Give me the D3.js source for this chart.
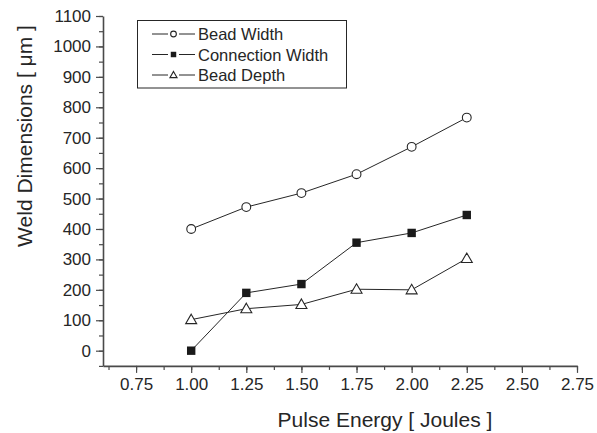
<!DOCTYPE html>
<html>
<head>
<meta charset="utf-8">
<script src="https://cdn.jsdelivr.net/npm/d3@7"></script>
<style>
  body { margin: 0; background: #fff; }
  svg text { font-family: "Liberation Sans", Arial, sans-serif; fill: #262626; }
</style>
</head>
<body>
<div id="area"></div>
<script>
var width = 597, height = 433;

// data
var energy = [1.00, 1.25, 1.50, 1.75, 2.00, 2.25];
var beadWidth = [400, 472, 518, 580, 670, 766];
var connectionWidth = [0, 190, 219, 355, 387, 446];
var beadDepth = [102, 138, 152, 202, 200, 303];
var seriesNames = ['Bead Width', 'Connection Width', 'Bead Depth'];
var seriesMarkers = ['circle', 'square', 'triangle'];
var xTicks = [0.75, 1.00, 1.25, 1.50, 1.75, 2.00, 2.25, 2.50, 2.75];
var yTicks = [0, 100, 200, 300, 400, 500, 600, 700, 800, 900, 1000, 1100];

var series = [beadWidth, connectionWidth, beadDepth];

var ink = '#262626', axisColor = '#4a4a4a';

var x = d3.scaleLinear().domain([0.6, 2.75]).range([103, 577]);
var y = d3.scaleLinear().domain([-50, 1100]).range([365.9, 16]);

var svg = d3.select('#area').append('svg')
    .attr('width', width).attr('height', height);

// minor ticks
var xMinor = d3.range(0.625, 2.76, 0.125);
var yMinor = d3.range(-50, 1101, 50);

svg.append('g').attr('transform', 'translate(0,365.9)')
    .call(d3.axisBottom(x).tickValues(xMinor).tickSize(4).tickFormat(''))
    .call(function(g) { g.select('.domain').remove(); });
svg.append('g').attr('transform', 'translate(103,0)')
    .call(d3.axisLeft(y).tickValues(yMinor).tickSize(4).tickFormat(''))
    .call(function(g) { g.select('.domain').remove(); });

var xAxis = svg.append('g').attr('transform', 'translate(0,365.9)')
    .call(d3.axisBottom(x).tickValues(xTicks).tickSize(7).tickSizeOuter(0).tickPadding(5)
      .tickFormat(d3.format('.2f')));
var yAxis = svg.append('g').attr('transform', 'translate(103,0)')
    .call(d3.axisLeft(y).tickValues(yTicks).tickSize(7).tickSizeOuter(0).tickPadding(5)
      .tickFormat(d3.format('d')));

svg.selectAll('.tick line').attr('stroke', axisColor).attr('stroke-width', 1.2);
svg.selectAll('.domain').attr('stroke', axisColor).attr('stroke-width', 1.6);
svg.selectAll('.tick text').attr('font-size', 17).attr('fill', ink)
    .style('font-family', '"Liberation Sans", Arial, sans-serif');

// axis titles
svg.append('text')
    .attr('x', 385).attr('y', 427)
    .attr('text-anchor', 'middle')
    .attr('font-size', 21)
    .text('Pulse Energy [ Joules ]');

svg.append('text')
    .attr('transform', 'translate(32,136) rotate(-90)')
    .attr('text-anchor', 'middle')
    .attr('font-size', 21)
    .text('Weld Dimensions [ \u03bcm ]');

// markers, k scales them down for the legend
function drawMarker(g, type, cx, cy, k) {
  k = k || 1;
  if (type === 'circle') {
    g.append('circle').attr('cx', cx).attr('cy', cy).attr('r', 4.4 * k)
      .attr('fill', '#fff').attr('stroke', ink).attr('stroke-width', 1.1);
  } else if (type === 'square') {
    g.append('rect').attr('x', cx - 4.2 * k).attr('y', cy - 4.2 * k)
      .attr('width', 8.4 * k).attr('height', 8.4 * k).attr('fill', '#1a1a1a');
  } else {
    g.append('path')
      .attr('d', 'M' + cx + ',' + (cy - 5.5 * k) + 'L' + (cx + 5.5 * k) + ',' + (cy + 4 * k) +
        'L' + (cx - 5.5 * k) + ',' + (cy + 4 * k) + 'Z')
      .attr('fill', '#fff').attr('stroke', ink).attr('stroke-width', 1.1);
  }
}

var line = d3.line()
    .x(function(d, i) { return x(energy[i]); })
    .y(function(d) { return y(d); });

series.forEach(function(vals, s) {
  svg.append('path').datum(vals)
    .attr('d', line)
    .attr('fill', 'none').attr('stroke', ink).attr('stroke-width', 1);
});
series.forEach(function(vals, s) {
  var g = svg.append('g');
  vals.forEach(function(v, i) {
    drawMarker(g, seriesMarkers[s], x(energy[i]), y(v));
  });
});

// legend
var legend = svg.append('g');
legend.append('rect')
    .attr('x', 137.5).attr('y', 20.5).attr('width', 209).attr('height', 67.5)
    .attr('fill', '#fff').attr('stroke', ink).attr('stroke-width', 1);
seriesNames.forEach(function(name, i) {
  var ly = 34 + i * 20.5;
  legend.append('line').attr('x1', 152).attr('x2', 168).attr('y1', ly).attr('y2', ly)
    .attr('stroke', ink).attr('stroke-width', 1);
  legend.append('line').attr('x1', 179).attr('x2', 195).attr('y1', ly).attr('y2', ly)
    .attr('stroke', ink).attr('stroke-width', 1);
  drawMarker(legend, seriesMarkers[i], 173.5, ly, 0.65);
  legend.append('text').attr('x', 198).attr('y', ly + 6)
    .attr('font-size', 16.5).text(name);
});
</script>
</body>
</html>
